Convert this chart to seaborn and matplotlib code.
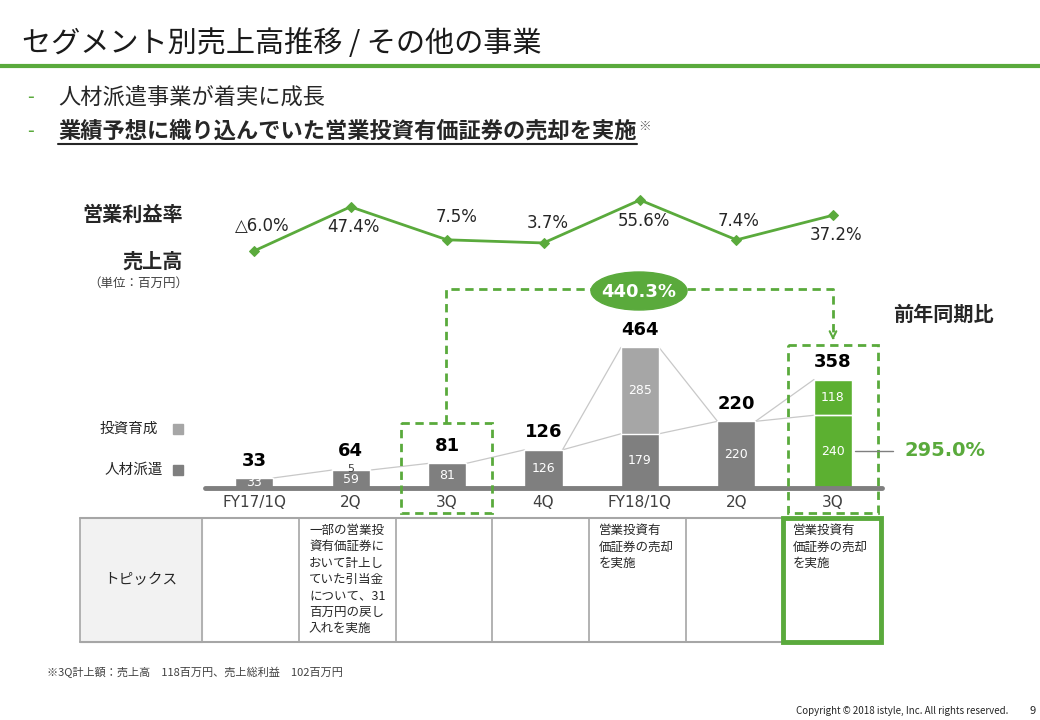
import matplotlib
matplotlib.use("Agg")
import matplotlib.pyplot as plt
from matplotlib.patches import Rectangle, Ellipse
import pandas as pd
import seaborn as sns

# Data (単位：百万円)
periods = ["FY17/1Q", "FY17/2Q", "FY17/3Q", "FY17/4Q", "FY18/1Q", "FY18/2Q", "FY18/3Q"]
tick_labels = ["FY17/1Q", "2Q", "3Q", "4Q", "FY18/1Q", "2Q", "3Q"]
staffing = [33, 59, 81, 126, 179, 220, 240]      # 人材派遣
investment = [0, 5, 0, 0, 285, 0, 118]           # 投資育成
op_margin = [-6.0, 47.4, 7.5, 3.7, 55.6, 7.4, 37.2]
margin_labels = ["△6.0%", "47.4%", "7.5%", "3.7%", "55.6%", "7.4%", "37.2%"]
topics = [
    "",
    "一部の営業投\n資有価証券に\nおいて計上し\nていた引当金\nについて、31\n百万円の戻し\n入れを実施",
    "",
    "",
    "営業投資有\n価証券の売却\nを実施",
    "",
    "営業投資有\n価証券の売却\nを実施",
]
yoy_total = "440.3%"
yoy_staffing = "295.0%"

totals = [a + b for a, b in zip(staffing, investment)]
df = pd.DataFrame({"period": periods, "staffing": staffing,
                   "investment": investment, "total": totals, "margin": op_margin})

GREEN = "#5aaa3c"
BAR_GREEN = "#5cb031"
DARK = "#7f7f7f"
LIGHT = "#a6a6a6"
TEXT = "#262626"
NUM_FONT = ["DejaVu Sans", "Noto Sans CJK JP"]

sns.set_theme(style="white")
plt.rcParams["font.family"] = ["Noto Sans CJK JP", "DejaVu Sans"]

W, H = 1040, 720
fig = plt.figure(figsize=(W / 100, H / 100), dpi=100)


def rect(left, top, right, bottom):
    return [left / W, 1 - bottom / H, (right - left) / W, (bottom - top) / H]


XLIM = (-0.508, 6.508)
BAR_W = 0.394

# ---- stacked bars ----
ax = fig.add_axes(rect(205, 288, 882, 488))
ax.patch.set_visible(False)
top_pal = {p: LIGHT for p in periods}
top_pal[periods[-1]] = BAR_GREEN
bot_pal = {p: DARK for p in periods}
bot_pal[periods[-1]] = BAR_GREEN
sns.barplot(data=df, x="period", y="total", hue="period", palette=top_pal,
            width=BAR_W, saturation=1, legend=False, ax=ax)
sns.barplot(data=df, x="period", y="staffing", hue="period", palette=bot_pal,
            width=BAR_W, saturation=1, legend=False, ax=ax)
ax.set_xlim(*XLIM)
ax.set_ylim(0, 660)
for s in ax.spines.values():
    s.set_visible(False)
ax.set_yticks([])
ax.set_xticks(range(len(periods)), tick_labels, family=NUM_FONT)
ax.tick_params(axis="x", length=0, pad=5, labelsize=11, labelcolor="#404040")
ax.set_xlabel("")
ax.set_ylabel("")
ax.axhline(0, color=DARK, lw=3.5, clip_on=False, zorder=3)

# white divider inside the last bar
last = len(periods) - 1
ax.hlines(staffing[last], last - BAR_W / 2, last + BAR_W / 2, color="white", lw=1, zorder=3)

# thin connectors between bar tops
for i in range(len(periods) - 1):
    ax.plot([i + BAR_W / 2, i + 1 - BAR_W / 2], [staffing[i], staffing[i + 1]],
            color="#c8c8c8", lw=0.9, zorder=0.5)
    if investment[i] > 10 or investment[i + 1] > 10:
        ax.plot([i + BAR_W / 2, i + 1 - BAR_W / 2], [totals[i], totals[i + 1]],
                color="#c8c8c8", lw=0.9, zorder=0.5)

# value labels
for i in range(len(periods)):
    ax.text(i, staffing[i] / 2, f"{staffing[i]}", ha="center", va="center",
            color="white", fontsize=9, family=NUM_FONT, zorder=4)
    if investment[i] > 10:
        ax.text(i, staffing[i] + investment[i] / 2, f"{investment[i]}", ha="center",
                va="center", color="white", fontsize=9, family=NUM_FONT, zorder=4)
    elif investment[i] > 0:
        # tiny segment: label sits right on the bar top
        ax.text(i, totals[i], f"{investment[i]}", ha="center", va="center",
                color="#404040", fontsize=8, family=NUM_FONT, zorder=4)
    ax.annotate(f"{totals[i]}", (i, totals[i]), xytext=(0, 6), textcoords="offset points",
                ha="center", va="bottom", fontsize=13, fontweight="bold",
                family=NUM_FONT, color="black")

# ---- operating margin line ----
lax = fig.add_axes(rect(205, 190, 882, 260))
lax.patch.set_visible(False)
sns.lineplot(x=list(range(len(periods))), y=op_margin, color=GREEN, lw=2,
             marker="D", markersize=5.5, markeredgecolor=GREEN, ax=lax)
lax.set_xlim(*XLIM)
lax.set_ylim(-16.9, 67.7)
lax.axis("off")
label_offsets = [(8, 25), (3, -20), (10, 23), (4, 20), (4, -21), (2, 19), (3, -20)]
for i, (lab, (dx, dy)) in enumerate(zip(margin_labels, label_offsets)):
    lax.annotate(lab, (i, op_margin[i]), xytext=(dx, dy), textcoords="offset pixels",
                 ha="center", va="center", fontsize=12, family=NUM_FONT, color=TEXT)

# ---- overlay in pixel coordinates ----
ov = fig.add_axes([0, 0, 1, 1])
ov.set_xlim(0, W)
ov.set_ylim(H, 0)
ov.axis("off")
ov.patch.set_visible(False)
ov.set_zorder(5)

ov.text(22, 44, "セグメント別売上高推移 / その他の事業", fontsize=21, va="center", color="#1a1a1a")
ov.plot([0, W], [66, 66], color=GREEN, lw=3)

ov.text(27, 98, "-", fontsize=14, va="center", color=GREEN)
ov.text(58, 98, "人材派遣事業が着実に成長", fontsize=16, va="center", color=TEXT)
ov.text(27, 131, "-", fontsize=14, va="center", color=GREEN)
b2 = ov.text(58, 131, "業績予想に織り込んでいた営業投資有価証券の売却を実施", fontsize=16,
             va="center", color=TEXT, fontweight="bold")
fig.canvas.draw()
bb = b2.get_window_extent()
x1 = ov.transData.inverted().transform((bb.x1, bb.y0))[0]
ov.plot([58, x1], [144, 144], color=TEXT, lw=1.5)
ov.text(x1 + 2, 126, "※", fontsize=9, va="center", color="#595959", fontweight="bold")

# left side labels
ov.text(183, 214, "営業利益率", fontsize=14.5, fontweight="bold", ha="right", va="center", color=TEXT)
ov.text(183, 261, "売上高", fontsize=14.5, fontweight="bold", ha="right", va="center", color=TEXT)
ov.text(188, 283, "（単位：百万円）", fontsize=9, ha="right", va="center", color="#404040")
ov.text(158, 429, "投資育成", fontsize=10.5, ha="right", va="center", color=TEXT)
ov.add_patch(Rectangle((173, 424), 10, 10, color=LIGHT))
ov.text(163, 470, "人材派遣", fontsize=10.5, ha="right", va="center", color=TEXT)
ov.add_patch(Rectangle((173, 465), 10, 10, color=DARK))

# year-on-year callouts
ov.text(943, 314, "前年同期比", fontsize=14.5, fontweight="bold", ha="center", va="center", color=TEXT)
ov.plot([855, 893], [451, 451], color=DARK, lw=1)
ov.text(905, 451, yoy_staffing, fontsize=14, fontweight="bold", va="center",
        color=GREEN, family=NUM_FONT)

dash = dict(color=GREEN, lw=2, ls=(0, (3, 2)))
ov.add_patch(Rectangle((401, 423), 91, 90, fill=False, ec=GREEN, lw=2, ls=(0, (3, 2))))
ov.add_patch(Rectangle((788, 345), 90, 168, fill=False, ec=GREEN, lw=2, ls=(0, (3, 2))))
ov.plot([446, 446, 833, 833], [423, 289, 289, 338], **dash)
ov.annotate("", xy=(833, 343), xytext=(833, 334),
            arrowprops=dict(arrowstyle="->", color=GREEN, lw=1.5))
ov.add_patch(Ellipse((639, 291), 96, 38, color=GREEN, zorder=4))
ov.text(639, 292, yoy_total, fontsize=13, fontweight="bold", ha="center", va="center",
        color="white", family=NUM_FONT, zorder=5)

# ---- topics table ----
col_edges = [80, 202, 299, 396, 492, 589, 686, 783, 881]
t_top, t_bot = 518, 642
ov.add_patch(Rectangle((col_edges[0], t_top), col_edges[1] - col_edges[0], t_bot - t_top,
                       color="#f2f2f2", zorder=0))
for xe in col_edges:
    ov.plot([xe, xe], [t_top, t_bot], color="#a6a6a6", lw=1.2)
ov.plot([col_edges[0], col_edges[-1]], [t_top, t_top], color="#a6a6a6", lw=1.5)
ov.plot([col_edges[0], col_edges[-1]], [t_bot, t_bot], color="#a6a6a6", lw=1.5)
ov.text((col_edges[0] + col_edges[1]) / 2, 580, "トピックス", fontsize=10.5,
        ha="center", va="center", color=TEXT)
for i, txt in enumerate(topics):
    if txt:
        ov.text(col_edges[i + 1] + 10, 524, txt, fontsize=9, va="top",
                linespacing=1.33, color=TEXT)
ov.add_patch(Rectangle((783, 518), 98, 124, fill=False, ec=GREEN, lw=3.5, zorder=6))

# footnotes
ov.text(47, 672, "※3Q計上額：売上高　118百万円、売上総利益　102百万円", fontsize=8,
        va="center", color="#404040")
ov.text(1008, 711, "Copyright © 2018 istyle, Inc. All rights reserved.", fontsize=7,
        ha="right", va="center", color=TEXT)
ov.text(1030, 711, "9", fontsize=8, va="center", color=TEXT)

fig.savefig("out.png", dpi=100)
